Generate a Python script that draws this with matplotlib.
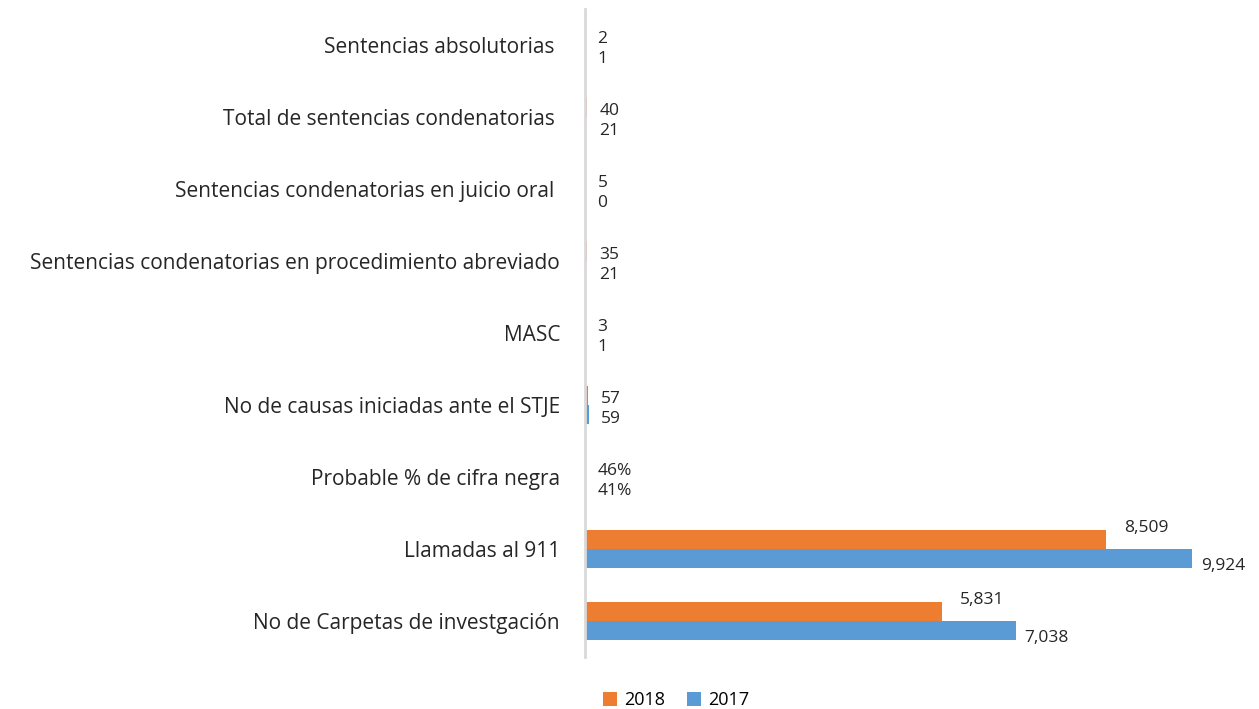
import matplotlib.pyplot as plt
import numpy as np

# %% Data (bottom to top)
categories = [
    "No de Carpetas de investgación",
    "Llamadas al 911",
    "Probable % de cifra negra",
    "No de causas iniciadas ante el STJE",
    "MASC",
    "Sentencias condenatorias en procedimiento abreviado",
    "Sentencias condenatorias en juicio oral ",
    "Total de sentencias condenatorias ",
    "Sentencias absolutorias ",
]
values_2018 = [5831, 8509, 0.46, 57, 3, 35, 5, 40, 2]
values_2017 = [7038, 9924, 0.41, 59, 1, 21, 0, 21, 1]
labels_2018 = ["5,831", "8,509", "46%", "57", "3", "35", "5", "40", "2"]
labels_2017 = ["7,038", "9,924", "41%", "59", "1", "21", "0", "21", "1"]

orange = "#ED7D31"
blue = "#5B9BD5"

plt.rcParams["font.family"] = ["Open Sans", "DejaVu Sans"]

fig = plt.figure(figsize=(12.59, 7.09), dpi=100)
ax = fig.add_axes([585 / 1259, 1 - 657 / 709, (1259 - 585) / 1259, 648 / 709])

y = np.arange(len(categories))
h = 0.264
ax.barh(y + h / 2, values_2018, height=h, color=orange, label="2018")
ax.barh(y - h / 2, values_2017, height=h, color=blue, label="2017")

ax.set_ylim(-0.5, len(categories) - 0.5)
ax.set_xlim(0, (1259 - 585) / 0.0612)
ax.set_yticks(y)
ax.set_yticklabels(categories, fontsize=15, color="#262626")
ax.tick_params(axis="y", length=0, pad=18)
ax.set_xticks([])
for s in ["top", "right", "bottom"]:
    ax.spines[s].set_visible(False)
ax.spines["left"].set_color("#d9d9d9")
ax.spines["left"].set_linewidth(2)

# value labels
for i in range(len(categories)):
    if values_2017[i] > 1000:
        off18, off17 = (13, 15), (6, -12)
    else:
        off18, off17 = (9, 4), (9, -10)
    ax.annotate(labels_2018[i], (values_2018[i], y[i]), xytext=off18,
                textcoords="offset points", va="center", ha="left",
                fontsize=12.5, color="#262626", annotation_clip=False)
    ax.annotate(labels_2017[i], (values_2017[i], y[i]), xytext=off17,
                textcoords="offset points", va="center", ha="left",
                fontsize=12.5, color="#262626", annotation_clip=False)

fig.legend(loc="center", bbox_to_anchor=(676 / 1259, 1 - 700 / 709), ncol=2,
           frameon=False, fontsize=13, handlelength=0.8, handleheight=0.8,
           handletextpad=0.4, columnspacing=1.2)

fig.savefig("out.png", dpi=100)
